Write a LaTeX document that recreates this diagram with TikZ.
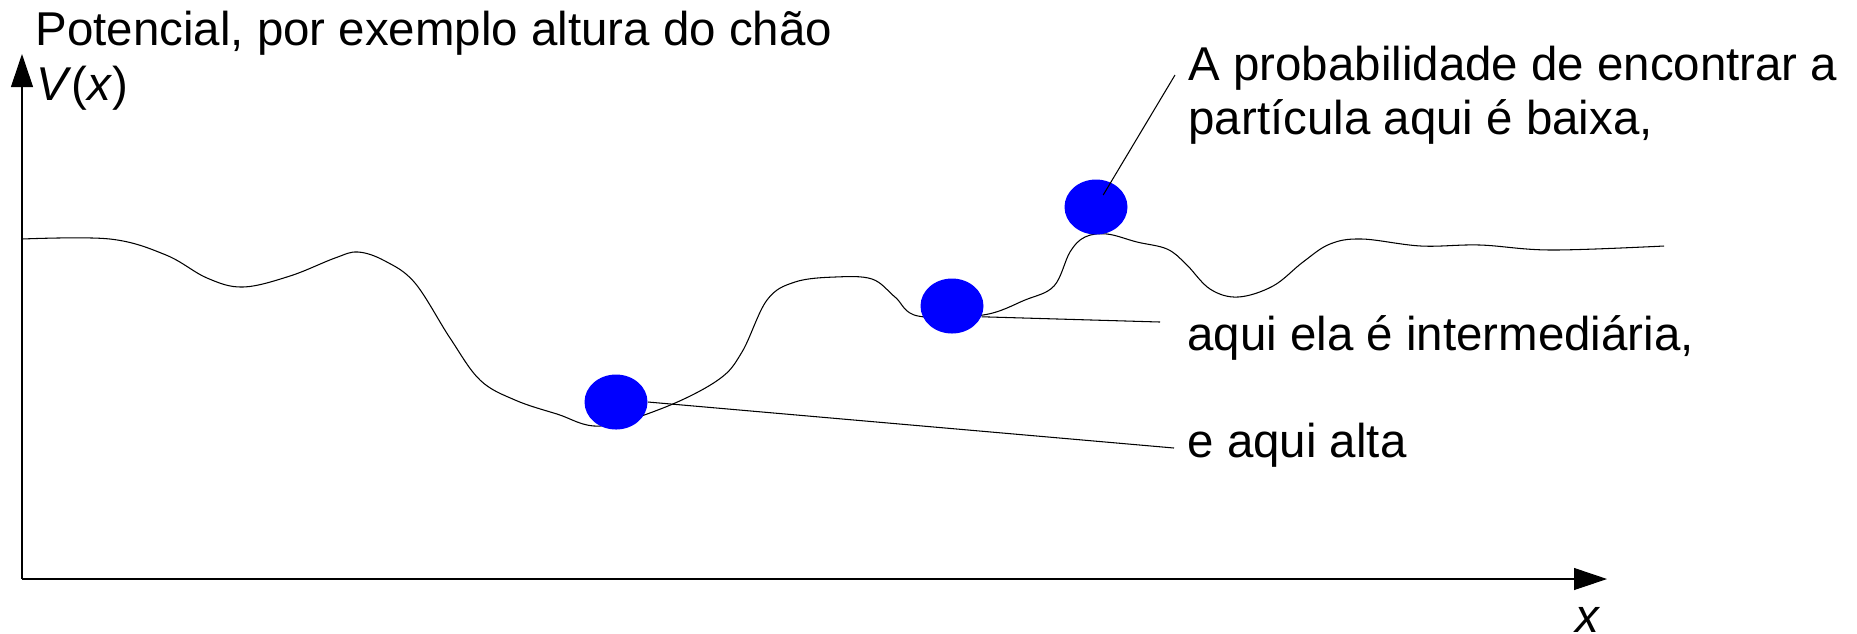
\documentclass[tikz,border=0pt]{standalone}
\usepackage{fontspec}
\setmainfont{Liberation Sans}
\usepackage{tikz}
\usetikzlibrary{arrows.meta, shapes.geometric}

\begin{document}
\begin{tikzpicture}[x=0.1mm, y=-0.1mm, line width=0.3pt,
    every node/.style={font=\fontsize{13.5}{15.2}\selectfont, inner sep=0pt},
    axis/.style={-{Triangle[length=3.3mm, width=2.2mm]}},
    ball/.style={ellipse, fill=blue, minimum width=6.3mm, minimum height=5.5mm},
    caption/.style={anchor=base west, align=left}]
    \useasboundingbox (0,0) rectangle (1857,633);
    \coordinate (origin) at (22,579);
    \coordinate (ytip) at (22,54);
    \coordinate (xtip) at (1607,579);
    \draw[axis] (origin) -- (ytip);
    \draw[axis] (origin) -- (xtip);
    \node[caption] (title) at (35,45) {Potencial, por exemplo altura do chão};
    \node[caption] (vlabel) at (36,100) {\textit{V}(\textit{x})};
    \node[anchor=base] (xlabel) at (1588,632) {\textit{x}};
    \draw plot[smooth, tension=0.6] coordinates {
      (22,239) (110,239) (166,255) (207,278) (243,287) (290,276) (335,258)
      (358,252) (385,261) (415,283) (450,338) (480,380) (515,400) (557,414)
      (600,426) (663,408) (718,380) (742,352) (767,300) (795,282) (835,277)
      (872,279) (895,297) (918,316) (983,315) (1025,300) (1054,286)
      (1070,252) (1085,237) (1107,234) (1137,242) (1167,249) (1186,264)
      (1210,289) (1238,297) (1273,286) (1303,262) (1330,244) (1362,239)
      (1421,246) (1480,245) (1551,250) (1664,246)};
    \node[ball] (pdeep) at (616,402) {};
    \node[ball] (pmid) at (952,306) {};
    \node[ball] (ptop) at (1096,207) {};
    \node[caption] (baixa) at (1188,134)
      {A probabilidade de encontrar a\\partícula aqui é baixa,};
    \node[caption] (inter) at (1187,350) {aqui ela é intermediária,};
    \node[caption] (alta) at (1187,457) {e aqui alta};
    \coordinate (baixa-tip) at (1175,75);
    \coordinate (inter-tip) at (1160,322);
    \coordinate (alta-tip) at (1174,448);
    \draw[shorten <=1.4mm] (ptop.center) -- (baixa-tip);
    \draw (pmid.-20) -- (inter-tip);
    \draw (pdeep.east) -- (alta-tip);
\end{tikzpicture}
\end{document}
